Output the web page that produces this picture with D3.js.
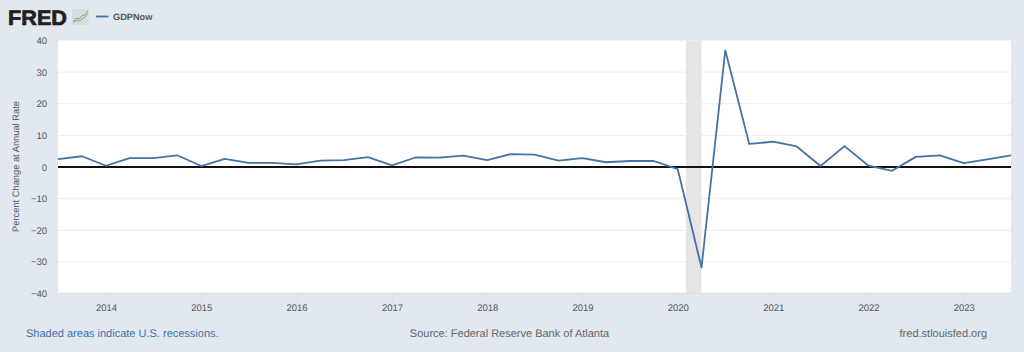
<!DOCTYPE html>
<html>
<head>
<meta charset="utf-8">
<script src="https://cdn.jsdelivr.net/npm/d3@7/dist/d3.min.js"></script>
<style>
html,body{margin:0;padding:0;background:#e1e8f0;overflow:hidden}
svg{display:block}
text{font-family:"Liberation Sans",Arial,sans-serif;text-rendering:geometricPrecision}
</style>
</head>
<body>
<svg id="c" width="1024" height="352"></svg>
<script>
const quarters = ["2013-07-01","2013-10-01",
"2014-01-01","2014-04-01","2014-07-01","2014-10-01",
"2015-01-01","2015-04-01","2015-07-01","2015-10-01",
"2016-01-01","2016-04-01","2016-07-01","2016-10-01",
"2017-01-01","2017-04-01","2017-07-01","2017-10-01",
"2018-01-01","2018-04-01","2018-07-01","2018-10-01",
"2019-01-01","2019-04-01","2019-07-01","2019-10-01",
"2020-01-01","2020-04-01","2020-07-01","2020-10-01",
"2021-01-01","2021-04-01","2021-07-01","2021-10-01",
"2022-01-01","2022-04-01","2022-07-01","2022-10-01",
"2023-01-01","2023-04-01","2023-07-01"];
const gdpNow = [2.5,3.4,0.4,2.8,2.8,3.7,0.3,2.6,1.3,1.3,0.8,2.0,2.2,3.1,
0.5,3.0,2.95,3.6,2.2,4.1,3.9,2.0,2.8,1.5,1.9,1.9,-0.7,-31.8,36.9,7.3,
8.0,6.5,0.3,6.6,0.4,-1.2,3.2,3.7,1.2,2.4,3.7];
const recessions = [["2020-02-01","2020-04-01"]];
const yTicks = [-40,-30,-20,-10,0,10,20,30,40];
const xTickYears = [2014,2015,2016,2017,2018,2019,2020,2021,2022,2023];
const seriesName = "GDPNow";
const yTitle = "Percent Change at Annual Rate";
const noteLeft = "Shaded areas indicate U.S. recessions.";
const noteCenter = "Source: Federal Reserve Bank of Atlanta";
const noteRight = "fred.stlouisfed.org";

const svg = d3.select("#c");
const plotL=58,plotR=1011,plotT=40.5,plotB=293.5;
const parse = d3.utcParse("%Y-%m-%d");
const x = d3.scaleUtc().domain([parse(quarters[0]),parse(quarters[quarters.length-1])]).range([plotL,plotR]);
const y = d3.scaleLinear().domain([-40,40]).range([plotB,plotT]);

svg.append("rect").attr("width",1024).attr("height",352).attr("fill","#e1e8f0");
svg.append("rect").attr("x",plotL).attr("y",plotT).attr("width",plotR-plotL).attr("height",plotB-plotT).attr("fill","#fff");

// gridlines
svg.append("g").selectAll("line").data(yTicks.filter(d=>d!==40&&d!==-40)).join("line")
  .attr("x1",plotL).attr("x2",plotR).attr("y1",d=>y(d)).attr("y2",d=>y(d))
  .attr("stroke","#ededed").attr("stroke-width",1);

// recession band
svg.append("g").selectAll("rect").data(recessions).join("rect")
  .attr("x",d=>x(parse(d[0]))).attr("width",d=>x(parse(d[1]))-x(parse(d[0])))
  .attr("y",plotT).attr("height",plotB-plotT).attr("fill","#e5e5e5");

// y axis
const ya = svg.append("g").attr("transform",`translate(${plotL},0)`)
  .call(d3.axisLeft(y).tickValues(yTicks).tickSize(0).tickPadding(11).tickFormat(d3.format("d")));
ya.select(".domain").remove();
ya.selectAll("text").attr("font-size",9.5).attr("fill","#555").style("font-family",'"Liberation Sans",Arial,sans-serif');

// x axis
const xa = svg.append("g").attr("transform",`translate(0,${plotB})`)
  .call(d3.axisBottom(x).tickValues(xTickYears.map(v=>new Date(Date.UTC(v,0,1)))).tickSize(7).tickPadding(4).tickFormat(d3.utcFormat("%Y")));
xa.select(".domain").attr("stroke","#d8e1f0").attr("stroke-width",1.5).attr("d",`M${plotL},0H${plotR}`);
xa.selectAll("line").attr("stroke","#d6deed");
xa.selectAll("text").attr("font-size",9.5).attr("fill","#555").style("font-family",'"Liberation Sans",Arial,sans-serif');

// zero line
svg.append("line").attr("x1",plotL).attr("x2",plotR).attr("y1",y(0)).attr("y2",y(0))
  .attr("stroke","#111").attr("stroke-width",1.9);

// series
const line = d3.line().x((d,i)=>x(parse(quarters[i]))).y(d=>y(d));
svg.append("path").datum(gdpNow).attr("d",line).attr("fill","none")
  .attr("stroke","#4572a7").attr("stroke-width",1.8).attr("stroke-linejoin","round");

// y title
svg.append("text").attr("transform","translate(19.3,166.5) rotate(-90)").attr("text-anchor","middle")
  .attr("font-size",9.3).attr("fill","#555").text(yTitle);

// logo
svg.append("text").attr("x",8).attr("y",25).attr("font-size",21).attr("font-weight",700)
  .attr("fill","#231f20").attr("textLength",59).attr("lengthAdjust","spacingAndGlyphs")
  .attr("stroke","#231f20").attr("stroke-width",.7).text("FRED");
const icon = svg.append("g");
icon.append("rect").attr("x",72).attr("y",9).attr("width",16.5).attr("height",16).attr("fill","#d9dcdc");
const iconX = d3.scaleLinear().domain([0,5]).range([73,88]);
const iconY = d3.scaleLinear().domain([0,10]).range([24,10]);
icon.append("path").datum([2,4,3.5,6,6.5,9.5]).attr("d",d3.line().x((d,i)=>iconX(i)).y(d=>iconY(d)))
  .attr("fill","none").attr("stroke","#7f9cbc").attr("stroke-width",1);
icon.append("path").datum([1,2.5,2,3.5,5,7.5]).attr("d",d3.line().x((d,i)=>iconX(i)).y(d=>iconY(d)))
  .attr("fill","none").attr("stroke","#8fae5f").attr("stroke-width",1);

// legend
svg.append("line").attr("x1",96).attr("x2",108.5).attr("y1",16.5).attr("y2",16.5)
  .attr("stroke","#4572a7").attr("stroke-width",1.8);
svg.append("text").attr("x",113).attr("y",20).attr("font-size",9.2).attr("font-weight",700)
  .attr("fill","#555").text(seriesName);

// footer notes
svg.append("text").attr("x",26).attr("y",336.5).attr("font-size",11).attr("fill","#4470a8").text(noteLeft);
svg.append("text").attr("x",509.5).attr("y",336.5).attr("text-anchor","middle").attr("font-size",11).attr("fill","#666").text(noteCenter);
svg.append("text").attr("x",987).attr("y",336.5).attr("text-anchor","end").attr("font-size",11).attr("fill","#666").text(noteRight);
</script>
</body>
</html>
